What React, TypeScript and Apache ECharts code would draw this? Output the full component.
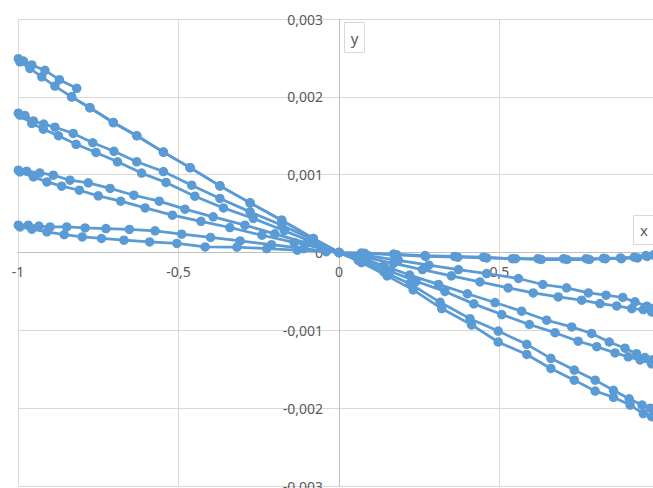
import React, { useEffect, useRef } from "react";
import * as echarts from "echarts";

// x ticks and y ticks
const xTicks = [-1, -0.5, 0, 0.5, 1];
const yTicks = [-0.003, -0.002, -0.001, 0, 0.001, 0.002, 0.003];

// Group 1 (top-left / bottom-right)
const g1a: number[][] = [
  [-0.999, 0.00249], [-0.983, 0.00246], [-0.957, 0.00241], [-0.916, 0.00234], [-0.871, 0.00222], [-0.817, 0.00211],
  [-0.833, 0.002], [-0.776, 0.00186], [-0.703, 0.00167], [-0.63, 0.0015], [-0.547, 0.00129], [-0.464, 0.00109],
  [-0.371, 0.000856], [-0.277, 0.000638], [-0.1785, 0.000415], [-0.08, 0.00018], [0, 0],
  [0.06, -0.0001], [0.14, -0.00025], [0.221, -0.0004], [0.315, -0.00064], [0.408, -0.00085], [0.496, -0.00101],
  [0.585, -0.00118], [0.66, -0.00136], [0.733, -0.00151], [0.798, -0.00164], [0.855, -0.00177], [0.904, -0.00188],
  [0.944, -0.00196], [0.97, -0.002], [0.99, -0.00204], [1.0, -0.00206],
];
const g1b: number[][] = [
  [-0.994, 0.00245], [-0.963, 0.002365], [-0.926, 0.002257], [-0.885, 0.002138], [-0.833, 0.002], [-0.776, 0.00186],
  [-0.703, 0.00167], [-0.63, 0.0015], [-0.547, 0.00129], [-0.464, 0.00109], [-0.371, 0.000856], [-0.277, 0.000638],
  [-0.1785, 0.000415], [-0.08, 0.00018], [0, 0],
  [0.07, -0.00013], [0.15, -0.0003], [0.231, -0.00048], [0.32, -0.00072], [0.413, -0.00093], [0.496, -0.00115],
  [0.585, -0.00131], [0.66, -0.00149], [0.733, -0.00164], [0.798, -0.00178], [0.855, -0.00186], [0.907, -0.00196],
  [0.948, -0.00207], [0.974, -0.00211], [0.993, -0.00214], [1.0, -0.00215],
];

// Group 2
const g2a: number[][] = [
  [-0.999, 0.00179], [-0.978, 0.00176], [-0.952, 0.00169], [-0.92, 0.00165], [-0.885, 0.00161], [-0.828, 0.00153],
  [-0.767, 0.00141], [-0.701, 0.0013], [-0.63, 0.001165], [-0.547, 0.00104], [-0.459, 0.000865], [-0.371, 0.000694],
  [-0.277, 0.000522], [-0.178, 0.000351], [-0.085, 0.00017], [0, 0],
  [0.06, -0.00006], [0.14, -0.00017], [0.22, -0.00029], [0.31, -0.00041], [0.4, -0.00053], [0.486, -0.000643],
  [0.569, -0.000754], [0.647, -0.00087], [0.725, -0.000956], [0.787, -0.00104], [0.842, -0.00115], [0.891, -0.00123],
  [0.927, -0.0013], [0.953, -0.00135], [0.974, -0.00138], [1.0, -0.00141],
];
const g2b: number[][] = [
  [-0.994, 0.001765], [-0.957, 0.00166], [-0.921, 0.001585], [-0.874, 0.0015], [-0.819, 0.00139], [-0.757, 0.001285],
  [-0.69, 0.001165], [-0.615, 0.00102], [-0.539, 0.0009], [-0.449, 0.000724], [-0.36, 0.000573], [-0.267, 0.000437],
  [-0.17, 0.00028], [-0.08, 0.00013], [0, 0],
  [0.07, -0.0001], [0.16, -0.00024], [0.24, -0.00037], [0.33, -0.0005], [0.42, -0.00066], [0.507, -0.000797],
  [0.593, -0.000925], [0.673, -0.00103], [0.745, -0.00114], [0.803, -0.00121], [0.86, -0.00129], [0.901, -0.00134],
  [0.938, -0.00138], [0.974, -0.00143], [1.0, -0.00146],
];

// Group 3
const g3a: number[][] = [
  [-0.999, 0.001058], [-0.973, 0.001045], [-0.932, 0.001023], [-0.89, 0.000994], [-0.838, 0.000929], [-0.781, 0.000895],
  [-0.713, 0.000823], [-0.639, 0.000736], [-0.56, 0.00066], [-0.48, 0.000557], [-0.392, 0.000458], [-0.293, 0.000351],
  [-0.2, 0.00024], [-0.1, 0.00012], [0, 0],
  [0.09, -0.00004], [0.185, -0.0001], [0.28, -0.000163], [0.372, -0.00022], [0.46, -0.00027], [0.559, -0.000334],
  [0.635, -0.000411], [0.709, -0.000454], [0.777, -0.000519], [0.832, -0.000548], [0.884, -0.000578], [0.922, -0.000634],
  [0.959, -0.00069], [0.974, -0.00072], [1.0, -0.00075],
];
const g3b: number[][] = [
  [-0.994, 0.001036], [-0.952, 0.000972], [-0.91, 0.000907], [-0.864, 0.000852], [-0.809, 0.0008], [-0.75, 0.000728],
  [-0.68, 0.00066], [-0.604, 0.000573], [-0.519, 0.00048], [-0.43, 0.0004], [-0.34, 0.000321], [-0.24, 0.000222],
  [-0.14, 0.00013], [-0.05, 0.00005], [0, 0],
  [0.08, -0.00006], [0.17, -0.00014], [0.26, -0.00022], [0.35, -0.0003], [0.439, -0.000378], [0.527, -0.000455],
  [0.605, -0.000519], [0.683, -0.000571], [0.756, -0.000613], [0.813, -0.000656], [0.865, -0.000686], [0.912, -0.00072],
  [0.948, -0.000733], [0.974, -0.000763], [1.0, -0.00078],
];

// Group 4
const g4a: number[][] = [
  [-0.999, 0.000351], [-0.968, 0.000351], [-0.935, 0.00034], [-0.9, 0.000329], [-0.848, 0.000329], [-0.791, 0.000316],
  [-0.726, 0.000308], [-0.653, 0.000296], [-0.573, 0.000278], [-0.49, 0.000235], [-0.4, 0.000193], [-0.308, 0.000149],
  [-0.21, 0.0001], [-0.11, 0.00005], [0, 0],
  [0.07, -0.000005], [0.17, -0.00002], [0.268, -0.00004], [0.36, -0.00005], [0.45, -0.00006], [0.54, -0.00008],
  [0.62, -0.00008], [0.7, -0.00008], [0.77, -0.00008], [0.824, -0.000075], [0.877, -0.00007], [0.92, -0.00006],
  [0.956, -0.00004], [0.98, -0.00003], [1.0, -0.00002],
];
const g4b: number[][] = [
  [-0.994, 0.000329], [-0.957, 0.0003], [-0.91, 0.000265], [-0.856, 0.00023], [-0.8, 0.0002], [-0.74, 0.00018],
  [-0.67, 0.000158], [-0.59, 0.000136], [-0.505, 0.000116], [-0.417, 0.000072], [-0.318, 0.00007], [-0.225, 0.00005],
  [-0.13, 0.00003], [-0.04, 0.00001], [0, 0],
  [0.08, -0.00001], [0.18, -0.00003], [0.27, -0.00005], [0.37, -0.00006], [0.46, -0.00007], [0.55, -0.00008],
  [0.63, -0.00009], [0.71, -0.00009], [0.78, -0.00009], [0.83, -0.00008], [0.88, -0.00008], [0.93, -0.00007],
  [0.96, -0.00005], [0.985, -0.00004], [1.0, -0.00003],
];

const seriesData = [g1a, g1b, g2a, g2b, g3a, g3b, g4a, g4b];

const BLUE = "#5B9BD5";
const LABEL = "#595959";

// layout
const W = 653;
const H = 488;
const GRID_LEFT = 18;
const GRID_RIGHT = -7;
const GRID_TOP = 19;
const GRID_BOTTOM = 2;

export default function App() {
  const ref = useRef<HTMLDivElement>(null);
  useEffect(() => {
    if (!ref.current) return;
    const chart = echarts.init(ref.current, undefined, { renderer: "svg" });
    const gw = W - GRID_LEFT - GRID_RIGHT;
    const gh = H - GRID_TOP - GRID_BOTTOM;
    const xMin = xTicks[0];
    const xMax = xTicks[xTicks.length - 1];
    const yMin = yTicks[0];
    const yMax = yTicks[yTicks.length - 1];
    // offsets that bring each axis onto the other axis' zero
    const yAxisOffset = -((0 - xMin) / (xMax - xMin)) * gw;
    const xAxisOffset = -((0 - yMin) / (yMax - yMin)) * gh;
    chart.setOption({
      animation: false,
      backgroundColor: "#ffffff",
      grid: {
        left: GRID_LEFT,
        right: GRID_RIGHT,
        top: GRID_TOP,
        bottom: GRID_BOTTOM,
        containLabel: false,
        outerBoundsMode: "none",
      },
      xAxis: {
        type: "value",
        min: xMin,
        max: xMax,
        interval: 0.5,
        position: "bottom",
        offset: xAxisOffset,
        axisLine: { onZero: false, lineStyle: { color: "#bfbfbf", width: 1 } },
        axisTick: { show: false },
        axisLabel: {
          color: LABEL,
          fontSize: 14,
          fontFamily: "Noto Sans",
          margin: 12,
          showMaxLabel: false,
          formatter: (v: number) => String(v).replace(".", ","),
        },
        splitLine: { show: true, lineStyle: { color: "#d9d9d9", width: 1 } },
      },
      yAxis: {
        type: "value",
        min: yMin,
        max: yMax,
        interval: 0.001,
        position: "left",
        offset: yAxisOffset,
        axisLine: { show: true, onZero: false, lineStyle: { color: "#bfbfbf", width: 1 } },
        axisTick: { show: false },
        axisLabel: {
          color: LABEL,
          fontSize: 14,
          fontFamily: "Noto Sans",
          margin: 16,
          formatter: (v: number) => (Math.abs(v) < 1e-9 ? "0" : v.toFixed(3).replace(".", ",")),
        },
        splitLine: { show: true, lineStyle: { color: "#d9d9d9", width: 1 } },
      },
      graphic: [
        {
          type: "group",
          children: [
            { type: "rect", shape: { x: 344.5, y: 22.5, width: 20, height: 30 }, style: { fill: "#fff", stroke: "#d9d9d9", lineWidth: 1 } },
            { type: "text", x: 354.5, y: 38, style: { text: "y", fill: LABEL, font: "15px Noto Sans", align: "center", verticalAlign: "middle" } },
            { type: "rect", shape: { x: 633.5, y: 215.5, width: 30, height: 29 }, style: { fill: "#fff", stroke: "#d9d9d9", lineWidth: 1 } },
            { type: "text", x: 644, y: 230, style: { text: "x", fill: LABEL, font: "15px Noto Sans", align: "center", verticalAlign: "middle" } },
          ],
        },
      ],
      series: seriesData.map((d, i) => ({
        name: "s" + (i + 1),
        type: "line",
        data: d,
        symbol: "circle",
        symbolSize: 9.5,
        showSymbol: true,
        lineStyle: { color: BLUE, width: 2.75 },
        itemStyle: { color: BLUE },
        z: 2,
      })),
    });
    return () => chart.dispose();
  }, []);
  return <div ref={ref} style={{ position: "fixed", left: 0, top: 0, width: W, height: H }} />;
}
